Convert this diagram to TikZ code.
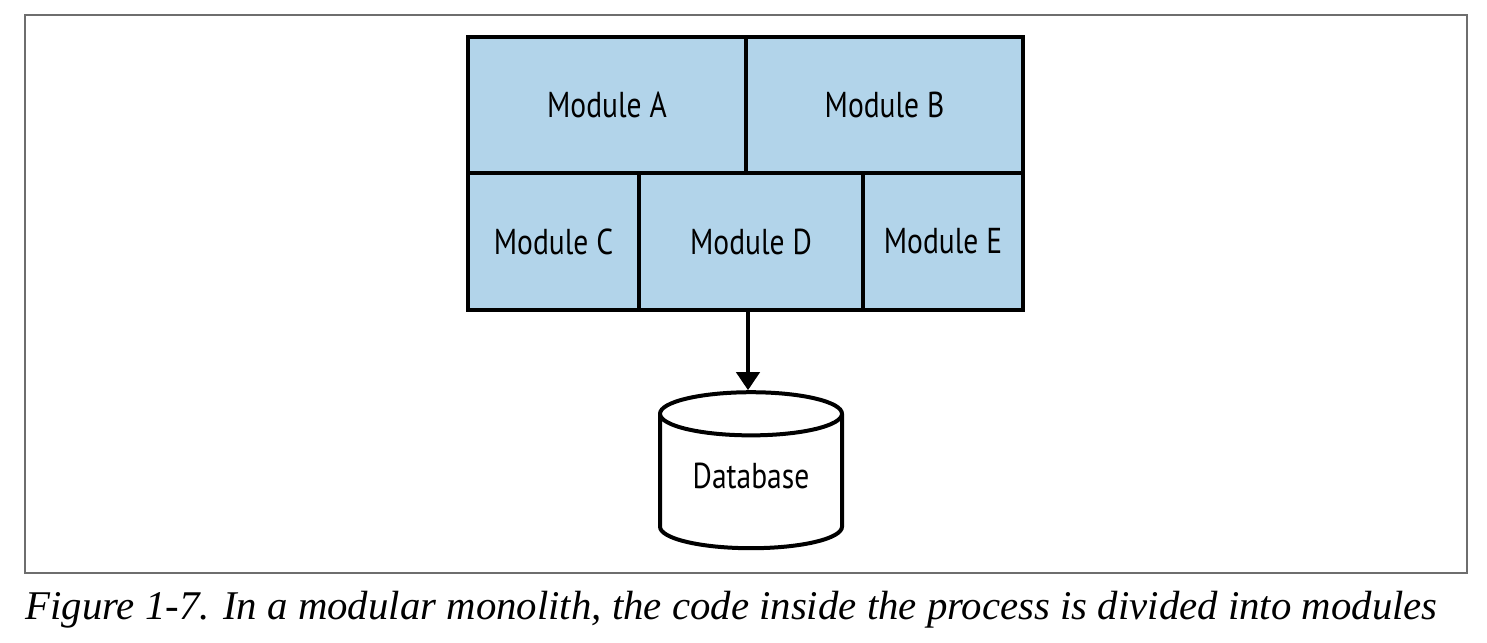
\documentclass[tikz,border=0pt]{standalone}
\usepackage{fontspec}
\usetikzlibrary{arrows.meta,shapes.geometric}
\newfontfamily\labelfont[FakeStretch=0.82]{PT Sans}
\newfontfamily\captionfont{Liberation Serif}
\definecolor{modblue}{RGB}{178,212,234}
\definecolor{framegray}{RGB}{110,110,110}

\begin{document}
\begin{tikzpicture}[x=0.5pt, y=-0.5pt,
        module/.style={draw, line width=2pt, fill=modblue, inner sep=0pt,
            font=\labelfont\fontsize{18}{20}\selectfont},
        dbase/.style={draw, line width=2pt, cylinder, shape border rotate=90,
            aspect=0.37, minimum width=91pt, minimum height=78pt, inner sep=0pt,
            font=\labelfont\fontsize{18}{20}\selectfont}]
        \useasboundingbox (0,0) rectangle (1487,642);
        \draw[framegray, line width=0.6pt] (25,15) rectangle (1467,573);

        \node[module, minimum width=139pt, minimum height=68pt] (a) at (607,105) {Module A};
        \node[module, minimum width=138.5pt, minimum height=68pt] (b) at (884.5,105) {Module B};
        \node[module, minimum width=85.5pt, minimum height=68.5pt] (c) at (553.5,241.5) {Module C};
        \node[module, minimum width=112pt, minimum height=68.5pt] (d) at (751,241.5) {Module D};
        \node[module, minimum width=80pt, minimum height=68.5pt] (e) at (943,241.5) {Module E};

        \node[dbase] (db) at (751,482) {\raisebox{3pt}[\height][\depth]{Database}};

        \draw[line width=2pt, -{Triangle[width=11.5pt, length=9pt]}] (a.east |- d.south) -- (a.east |- db.north);

        \node[inner sep=0pt, anchor=base west, font=\captionfont\itshape\fontsize{20.4}{24}\selectfont] (cap) at (25,619)
            {Figure 1-7. In a modular monolith, the code inside the process is divided into modules};
    \end{tikzpicture}
\end{document}
